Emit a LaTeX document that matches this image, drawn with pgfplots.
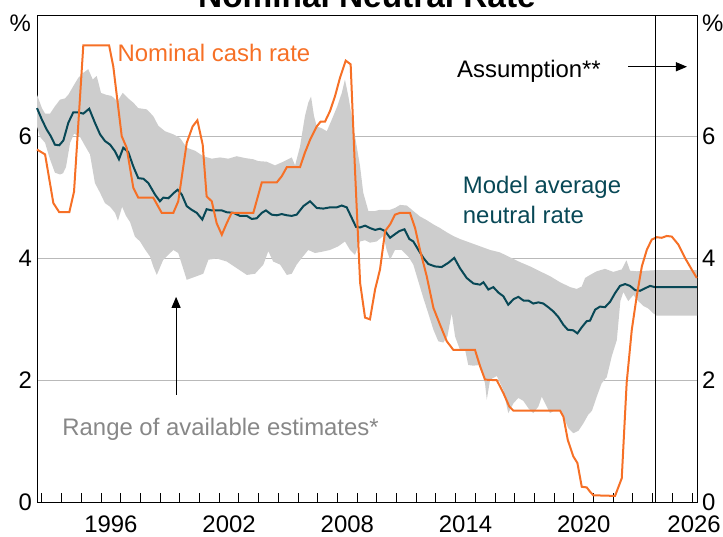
\documentclass[border=0pt]{standalone}
\usepackage{fontspec}
\setmainfont{Liberation Sans}
\usepackage{pgfplots}
\usepackage{pgfplotstable}
\pgfplotsset{compat=1.18}
\usepgfplotslibrary{fillbetween}
\usetikzlibrary{arrows.meta}
\definecolor{cashorange}{RGB}{246,112,38}
\definecolor{modelteal}{RGB}{8,72,86}
\definecolor{bandgray}{RGB}{205,205,205}
\definecolor{gridgray}{RGB}{185,185,185}
\definecolor{labelgray}{RGB}{135,135,135}
\newcommand{\chartfont}{\fontsize{24}{28}\selectfont}

\pgfplotstableread{
year val
1992.75 5.79
1993.16 5.71
1993.58 4.91
1993.88 4.76
1994.39 4.76
1994.63 5.10
1995.10 7.50
1996.41 7.50
1996.62 7.16
1997.05 6.01
1997.30 5.82
1997.64 5.16
1997.89 5.00
1998.65 5.00
1999.08 4.75
1999.67 4.75
1999.92 4.94
2000.35 5.90
2000.65 6.17
2000.89 6.27
2001.16 5.87
2001.36 5.02
2001.62 4.94
2001.87 4.58
2002.13 4.39
2002.38 4.58
2002.63 4.75
2003.73 4.75
2004.16 5.25
2004.92 5.25
2005.17 5.35
2005.43 5.50
2006.10 5.50
2006.35 5.74
2006.61 5.95
2006.95 6.17
2007.15 6.25
2007.37 6.25
2007.62 6.42
2007.88 6.67
2008.13 6.97
2008.42 7.25
2008.67 7.19
2008.89 5.46
2009.15 3.60
2009.40 3.03
2009.65 3.00
2009.91 3.49
2010.16 3.82
2010.42 4.45
2010.67 4.56
2010.92 4.72
2011.18 4.75
2011.68 4.75
2011.94 4.50
2012.19 4.14
2012.53 3.71
2012.87 3.19
2013.21 2.91
2013.55 2.64
2013.88 2.50
2014.98 2.50
2015.24 2.23
2015.49 2.01
2016.09 2.00
2016.42 1.79
2016.72 1.57
2016.93 1.50
2019.30 1.50
2019.47 1.40
2019.69 1.02
2019.97 0.75
2020.18 0.64
2020.40 0.25
2020.65 0.24
2020.82 0.17
2020.99 0.11
2022.09 0.10
2022.43 0.39
2022.68 1.96
2022.94 2.83
2023.19 3.38
2023.45 3.87
2023.70 4.14
2023.95 4.31
2024.21 4.35
2024.46 4.34
2024.71 4.37
2024.97 4.36
2025.30 4.23
2025.64 4.01
2025.98 3.82
2026.24 3.68
}\cashrate

\pgfplotstableread{
year val
1992.75 6.47
1993.00 6.28
1993.24 6.12
1993.45 6.01
1993.66 5.87
1993.88 5.86
1994.09 5.94
1994.34 6.23
1994.59 6.40
1994.85 6.40
1995.10 6.38
1995.40 6.46
1995.69 6.23
1995.95 6.04
1996.20 5.93
1996.46 5.87
1996.71 5.76
1996.91 5.63
1997.13 5.82
1997.38 5.75
1997.64 5.51
1997.89 5.32
1998.15 5.31
1998.40 5.24
1998.74 5.05
1998.99 4.94
1999.16 5.00
1999.42 4.99
1999.67 5.07
1999.89 5.13
2000.10 5.05
2000.35 4.86
2000.60 4.80
2000.86 4.75
2001.14 4.64
2001.36 4.81
2001.62 4.79
2002.13 4.79
2002.38 4.76
2002.72 4.75
2003.05 4.70
2003.40 4.70
2003.65 4.65
2003.90 4.66
2004.16 4.75
2004.37 4.79
2004.66 4.72
2004.92 4.71
2005.17 4.73
2005.43 4.71
2005.68 4.70
2005.93 4.72
2006.27 4.86
2006.61 4.94
2006.95 4.83
2007.28 4.82
2007.62 4.84
2007.96 4.84
2008.22 4.87
2008.47 4.84
2008.72 4.67
2008.94 4.52
2009.15 4.51
2009.40 4.54
2009.65 4.50
2009.91 4.47
2010.16 4.49
2010.42 4.45
2010.67 4.34
2010.92 4.40
2011.14 4.45
2011.40 4.48
2011.65 4.32
2011.85 4.28
2012.11 4.14
2012.36 4.01
2012.61 3.91
2012.95 3.87
2013.29 3.86
2013.63 3.93
2013.93 4.01
2014.22 3.84
2014.56 3.68
2014.90 3.59
2015.24 3.57
2015.41 3.61
2015.66 3.49
2015.91 3.53
2016.17 3.44
2016.42 3.38
2016.67 3.24
2016.93 3.33
2017.18 3.37
2017.44 3.31
2017.69 3.31
2017.94 3.26
2018.20 3.28
2018.45 3.26
2018.70 3.20
2018.96 3.13
2019.21 3.04
2019.47 2.91
2019.69 2.83
2019.97 2.82
2020.18 2.77
2020.40 2.87
2020.65 2.97
2020.82 2.98
2021.08 3.16
2021.33 3.21
2021.58 3.20
2021.84 3.29
2022.09 3.43
2022.34 3.55
2022.60 3.58
2022.85 3.55
2023.11 3.48
2023.36 3.47
2023.61 3.51
2023.87 3.55
2024.12 3.53
2026.25 3.53
}\modelavg

\pgfplotstableread{
year val
1992.75 6.69
1993.00 6.47
1993.16 6.38
1993.41 6.38
1993.66 6.50
1993.92 6.61
1994.17 6.63
1994.34 6.69
1994.59 6.83
1994.85 6.97
1995.10 7.05
1995.35 7.11
1995.58 6.94
1995.78 7.00
1996.00 6.72
1996.25 6.69
1996.54 6.67
1996.83 6.58
1997.10 6.72
1997.38 6.63
1997.64 6.56
1997.89 6.47
1998.32 6.45
1998.65 6.34
1998.91 6.18
1999.25 6.09
1999.67 6.04
2000.01 5.98
2000.35 5.82
2000.77 5.77
2001.19 5.68
2001.62 5.64
2002.04 5.66
2002.46 5.64
2002.89 5.68
2003.31 5.65
2003.73 5.63
2003.98 5.60
2004.41 5.59
2004.83 5.53
2005.25 5.59
2005.68 5.66
2005.85 5.53
2006.10 5.84
2006.35 6.34
2006.52 6.56
2006.66 6.66
2006.81 6.34
2006.95 6.17
2007.20 6.14
2007.46 6.09
2007.71 6.28
2007.99 6.50
2008.22 6.72
2008.38 6.94
2008.55 6.67
2008.72 6.34
2008.89 6.01
2009.15 5.51
2009.31 5.08
2009.57 4.78
2009.91 4.78
2010.16 4.80
2010.67 4.80
2010.92 4.83
2011.18 4.88
2011.52 4.87
2011.85 4.78
2012.19 4.69
2012.53 4.63
2012.87 4.56
2013.21 4.50
2013.55 4.43
2013.88 4.37
2014.22 4.32
2014.56 4.28
2014.90 4.24
2015.24 4.20
2015.75 4.14
2016.25 4.10
2016.76 4.02
2017.27 3.94
2017.78 3.87
2018.28 3.79
2018.79 3.71
2019.30 3.61
2019.81 3.53
2020.15 3.50
2020.40 3.54
2020.57 3.68
2020.82 3.73
2021.16 3.79
2021.58 3.83
2022.00 3.78
2022.43 3.82
2022.67 3.97
2022.85 3.80
2023.19 3.79
2023.70 3.80
2024.21 3.81
2026.25 3.81
}\upperband

\pgfplotstableread{
year val
1992.75 6.17
1992.90 6.00
1993.16 5.90
1993.41 5.63
1993.66 5.41
1993.92 5.38
1994.07 5.40
1994.22 5.50
1994.43 5.90
1994.63 6.05
1994.93 6.00
1995.19 5.85
1995.44 5.71
1995.69 5.24
1995.95 5.08
1996.20 4.91
1996.46 4.85
1996.71 4.75
1996.86 4.62
1997.07 4.85
1997.27 4.70
1997.47 4.60
1997.72 4.36
1997.98 4.28
1998.23 4.15
1998.49 4.03
1998.65 3.87
1998.83 3.73
1999.16 3.98
1999.67 4.14
1999.92 4.09
2000.35 3.65
2000.86 3.71
2001.19 3.75
2001.45 3.98
2001.87 4.00
2002.38 3.95
2002.89 3.84
2003.40 3.73
2003.82 3.75
2004.24 3.90
2004.49 4.12
2004.74 3.95
2005.09 3.90
2005.43 3.73
2005.68 3.75
2005.93 3.90
2006.19 4.01
2006.52 4.14
2006.86 4.09
2007.20 4.11
2007.62 4.14
2008.04 4.20
2008.38 4.28
2008.64 4.14
2008.89 4.06
2009.15 4.28
2009.40 4.30
2009.65 4.26
2009.99 4.28
2010.33 4.37
2010.50 4.14
2010.67 3.98
2010.92 4.14
2011.26 4.14
2011.60 4.03
2011.85 3.90
2012.11 3.62
2012.36 3.35
2012.61 3.10
2012.87 2.83
2013.12 2.64
2013.37 2.62
2013.58 2.72
2013.80 3.10
2013.97 2.72
2014.22 2.50
2014.48 2.50
2014.64 2.25
2014.90 2.24
2015.24 2.25
2015.49 1.95
2015.58 1.68
2015.75 2.01
2016.09 2.07
2016.42 1.84
2016.67 1.46
2016.93 1.62
2017.18 1.71
2017.44 1.66
2017.69 1.54
2017.94 1.46
2018.20 1.57
2018.37 1.73
2018.54 1.62
2018.79 1.46
2019.04 1.51
2019.30 1.51
2019.47 1.40
2019.72 1.21
2019.97 1.13
2020.23 1.17
2020.48 1.29
2020.72 1.43
2020.92 1.50
2021.16 1.73
2021.41 1.95
2021.67 2.05
2021.92 2.39
2022.18 2.66
2022.36 3.30
2022.51 3.45
2022.76 3.30
2023.02 3.40
2023.27 3.30
2023.53 3.22
2023.77 3.18
2024.03 3.10
2024.21 3.06
2026.25 3.06
}\lowerband

\begin{document}
\begin{tikzpicture}
\begin{axis}[
  name=main,
  at={(0,0)}, anchor=south west,
  scale only axis, width=660bp, height=487bp,
  xmin=1992.75, xmax=2026.25, ymin=0, ymax=8,
  axis line style={black, line width=1bp},
  tick align=inside, major tick length=9bp,
  xtick={1993,...,2026}, xticklabels={},
  xtick pos=left, ytick pos=left,
  xtick style={black, line width=1bp},
  extra x ticks={1996.5,2002.5,2008.5,2014.5,2020.5,2026.1},
  extra x tick labels={1996,2002,2008,2014,2020,2026},
  extra x tick style={tick style={draw=none}},
  ytick={0,2,4,6}, ytick style={draw=none},
  ymajorgrids, grid style={gridgray, line width=1bp},
  tick label style={font=\chartfont},
  /pgf/number format/assume math mode=true,
  yticklabel style={inner sep=0pt, xshift=-5bp},
  xticklabel style={inner sep=0pt, yshift=-14bp},
  clip=false,
]
\addplot[draw=none, name path=upper, forget plot] table[x=year, y=val] {\upperband};
\addplot[draw=none, name path=lower, forget plot] table[x=year, y=val] {\lowerband};
\addplot[bandgray, draw=none, forget plot] fill between[of=upper and lower];
\addplot[modelteal, line width=2bp] table[x=year, y=val] {\modelavg};
\addplot[cashorange, line width=2bp] table[x=year, y=val] {\cashrate};
\draw[black, line width=1bp] (axis cs:2024.15,0) -- (axis cs:2024.15,8);
\draw[black, line width=1bp, -{Triangle[length=11bp,width=9bp]}] (axis cs:1999.81,1.76) -- (axis cs:1999.81,3.37);
\draw[black, line width=1bp, -{Triangle[length=11bp,width=9bp]}] (axis cs:2022.75,7.15) -- (axis cs:2025.74,7.15);
\node[anchor=base west, inner sep=0pt, font=\chartfont, text=cashorange] at (axis cs:1996.83,7.24) {Nominal cash rate};
\node[anchor=base west, inner sep=0pt, font=\chartfont, text=modelteal] at (axis cs:2014.36,5.07) {Model average};
\node[anchor=base west, inner sep=0pt, font=\chartfont, text=modelteal] at (axis cs:2014.36,4.58) {neutral rate};
\node[anchor=base west, inner sep=0pt, font=\chartfont, text=black] at (axis cs:2014.07,6.98) {Assumption**};
\node[anchor=base west, inner sep=0pt, font=\chartfont, text=labelgray] at (axis cs:1994.03,1.10) {Range of available estimates*};
\end{axis}
\begin{axis}[
  at={(0,0)}, anchor=south west,
  scale only axis, width=660bp, height=487bp,
  xmin=1992.75, xmax=2026.25, ymin=0, ymax=8,
  hide x axis, axis y line*=right,
  y axis line style={draw=none},
  ytick={0,2,4,6}, ytick style={draw=none},
  tick label style={font=\chartfont},
  /pgf/number format/assume math mode=true,
  yticklabel style={inner sep=0pt, xshift=5bp},
]
\end{axis}
\node[anchor=base, inner sep=0pt, font=\bfseries\fontsize{33.5}{40}\selectfont] at ([yshift=8bp]main.north) {Nominal Neutral Rate};
\node[anchor=north east, inner sep=0pt, font=\chartfont] at ([xshift=-6bp]main.north west) {\%};
\node[anchor=north west, inner sep=0pt, font=\chartfont] at ([xshift=5bp]main.north east) {\%};
\pgfresetboundingbox
\useasboundingbox (-37bp,-35bp) rectangle (686bp,502bp);
\end{tikzpicture}
\end{document}
